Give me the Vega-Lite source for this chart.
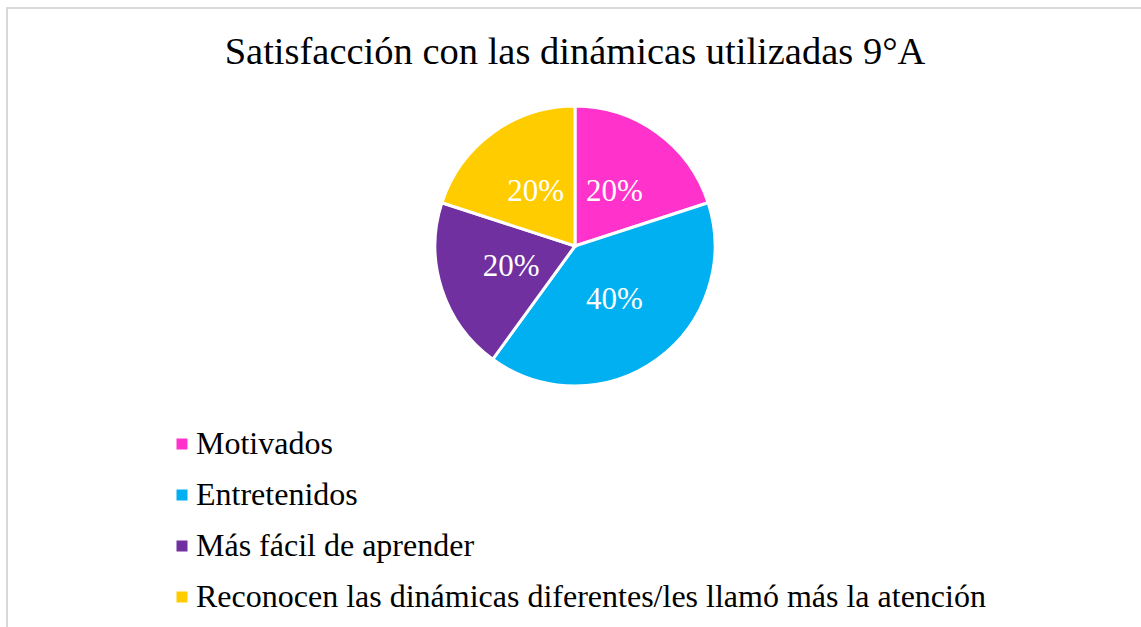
{
  "$schema": "https://vega.github.io/schema/vega-lite/v6.json",
  "autosize": "none",
  "padding": {"left": 7, "top": 8, "right": 0, "bottom": 0},
  "width": 1136,
  "height": 640,
  "background": "white",
  "view": {"stroke": "#d9d9d9", "strokeWidth": 2},
  "title": {
    "text": "Satisfacción con las dinámicas utilizadas 9°A",
    "font": "Liberation Serif",
    "fontSize": 38.5,
    "fontWeight": "normal",
    "color": "#000000",
    "anchor": "middle",
    "baseline": "alphabetic",
    "offset": -94
  },
  "config": {
    "view": {"stroke": "#d9d9d9", "strokeWidth": 2}
  },
  "data": {
    "values": [
      {"categoria": "Motivados", "valor": 20, "orden": 1, "etiqueta": "20%"},
      {"categoria": "Entretenidos", "valor": 40, "orden": 2, "etiqueta": "40%"},
      {"categoria": "Más fácil de aprender", "valor": 20, "orden": 3, "etiqueta": "20%"},
      {"categoria": "Reconocen las dinámicas diferentes/les llamó más la atención", "valor": 20, "orden": 4, "etiqueta": "20%"}
    ]
  },
  "encoding": {
    "theta": {"field": "valor", "type": "quantitative", "stack": true},
    "order": {"field": "orden", "type": "quantitative"},
    "color": {
      "field": "categoria",
      "type": "nominal",
      "scale": {
        "domain": ["Motivados", "Entretenidos", "Más fácil de aprender", "Reconocen las dinámicas diferentes/les llamó más la atención"],
        "range": ["#FF33CC", "#00B0F0", "#7030A0", "#FFCC00"]
      },
      "legend": {
        "title": null,
        "orient": "none",
        "legendX": 159,
        "legendY": 420,
        "direction": "vertical",
        "symbolType": "square",
        "symbolSize": 121,
        "symbolStrokeWidth": 0,
        "symbolOpacity": 1,
        "labelFont": "Liberation Serif",
        "labelFontSize": 32,
        "labelColor": "#000000",
        "labelOffset": -2,
        "labelLimit": 0,
        "rowPadding": 19
      }
    }
  },
  "layer": [
    {
      "mark": {"type": "arc", "outerRadius": 140, "stroke": "white", "strokeWidth": 3, "y": {"expr": "238"}}
    },
    {
      "mark": {"type": "text", "radius": 67, "font": "Liberation Serif", "fontSize": 31, "color": "white", "align": "center", "baseline": "middle", "y": {"expr": "238"}},
      "encoding": {
        "text": {"field": "etiqueta", "type": "nominal"},
        "color": {"value": "white"}
      }
    }
  ]
}
